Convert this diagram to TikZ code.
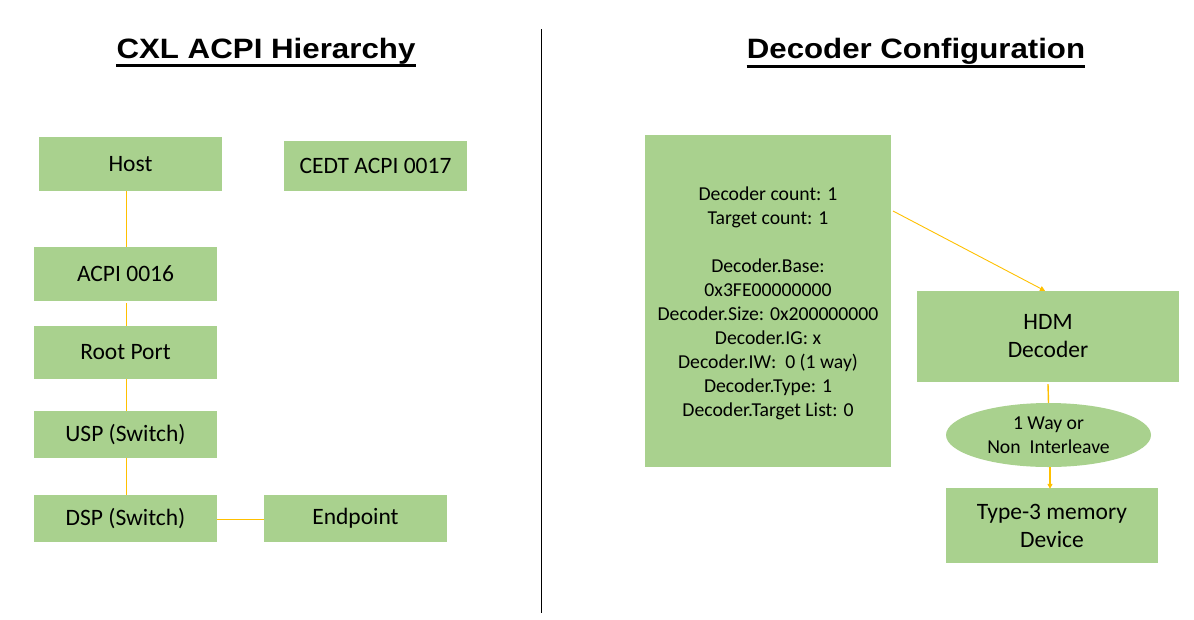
\documentclass[tikz,border=0pt]{standalone}
\usepackage{fontspec}
\setmainfont{Carlito}
\newfontfamily\titlefont{Liberation Sans}
\usetikzlibrary{shapes.geometric,arrows.meta}
\definecolor{boxgreen}{RGB}{169,209,142}
\definecolor{gold}{RGB}{255,192,0}
\tikzset{
  box/.style={fill=boxgreen, draw=none, inner sep=0pt, align=center,
    font=\fontsize{23.5}{28}\selectfont},
  ell/.style={ellipse, fill=boxgreen, draw=none, inner sep=0pt, align=center,
    font=\fontsize{19.7}{24}\selectfont},
  cfgtxt/.style={inner sep=0pt, align=center, font=\fontsize{19.7}{24}\selectfont},
  conn/.style={draw=gold, line width=1.4pt},
  lconn/.style={draw=gold, line width=1pt},
  thinconn/.style={draw=gold, line width=0.9pt},
  tip/.style={-{Triangle[length=5pt,width=5pt]}},
  title/.style={inner sep=0pt, anchor=base, font=\titlefont\bfseries\fontsize{28}{34}\selectfont},
  uline/.style={line width=2.7pt},
}
\begin{document}
\begin{tikzpicture}[x=1pt,y=-1pt]
\useasboundingbox (0,0) rectangle (1194,619);

% titles
\node[title] (t1) at (266,58.3) {\scalebox{1.117}[1]{CXL ACPI Hierarchy}};
\node[title] (t2) at (916,58.3) {\scalebox{1.115}[1]{Decoder Configuration}};
\draw[uline] ([yshift=-7.2pt]t1.base west) -- ([yshift=-7.2pt]t1.base east);
\draw[uline] ([yshift=-8.2pt]t2.base west) -- ([yshift=-8.2pt]t2.base east);

% divider
\coordinate (dtop) at (541.3,29);
\coordinate (dbot) at (541.3,612.5);
\draw[line width=1pt] (dtop) -- (dbot);

% left hierarchy
\node[box, minimum width=183pt, minimum height=54pt] (host) at (130.5,164) {Host};
\node[box, minimum width=183pt, minimum height=50pt] (cedt) at (375.5,166) {CEDT ACPI 0017};
\node[box, minimum width=183pt, minimum height=54pt] (acpi) at (125.5,274) {ACPI 0016};
\node[box, minimum width=183pt, minimum height=53pt] (root) at (125.5,352.5) {Root Port};
\node[box, minimum width=183pt, minimum height=47pt] (usp) at (125.5,434.5) {USP (Switch)};
\node[box, minimum width=183pt, minimum height=47pt] (dsp) at (125.5,518.5) {DSP (Switch)};
\node[box, minimum width=183pt, minimum height=47pt] (endp) at (355.5,518.5) {Endpoint};

\draw[lconn] ([xshift=1pt]acpi.north |- host.south) -- ([xshift=1pt]acpi.north);
\draw[lconn] ([xshift=1pt,yshift=-2pt]acpi.south) -- ([xshift=1pt]root.north);
\draw[lconn] ([xshift=1pt]root.south) -- ([xshift=1pt]usp.north);
\draw[lconn] ([xshift=1pt]usp.south) -- ([xshift=1pt]dsp.north);
\draw[lconn] ([yshift=-1pt]dsp.east) -- ([yshift=-1pt]endp.west);

% right: decoder configuration
\node[box, minimum width=246pt, minimum height=332pt] (cfg) at (768,301) {};
\node[cfgtxt] (cfgtext) at ([yshift=-2.5pt]cfg.center)
  {Decoder count: 1\\ Target count: 1\\[24pt]
   Decoder.Base:\\ 0x3FE00000000\\ Decoder.Size: 0x200000000\\
   Decoder.IG: x\\ Decoder.IW:\ \ 0 (1 way)\\ Decoder.Type: 1\\
   Decoder.Target List: 0};
\node[box, minimum width=262pt, minimum height=91pt] (hdm) at (1048,336.5) {HDM\\ Decoder};
\node[ell, minimum width=205pt, minimum height=64pt] (way) at (1048.5,435) {1 Way or\\ Non\ \ Interleave};
\node[box, minimum width=212pt, minimum height=75pt] (t3) at (1052,525.5) {Type-3 memory\\ Device};

\coordinate (astart) at (893,211);
\draw[thinconn, tip] (astart) -- ([xshift=-3pt]hdm.north);
\draw[conn] ([yshift=-2pt]hdm.south) -- (way.north);
\draw[conn, tip] (way.south -| t3.north) ++(-2,0) coordinate (wb) -- ([xshift=-2pt,yshift=-1pt]t3.north);
\end{tikzpicture}
\end{document}
